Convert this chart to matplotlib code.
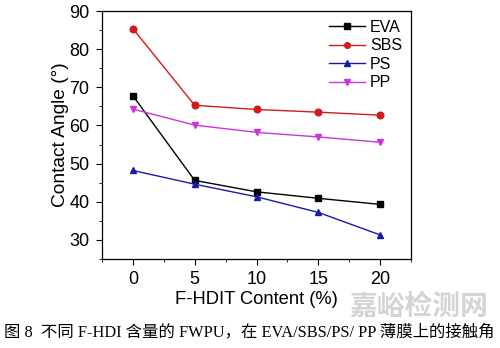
import matplotlib
matplotlib.use("Agg")
import matplotlib.pyplot as plt
from matplotlib.ticker import MultipleLocator

content = [0, 5, 10, 15, 20]
eva = [67.8, 45.6, 42.6, 40.9, 39.3]
sbs = [85.4, 65.3, 64.2, 63.5, 62.7]
ps = [48.2, 44.6, 41.3, 37.2, 31.3]
pp = [64.3, 60.1, 58.2, 57.0, 55.6]
series_names = ["EVA", "SBS", "PS", "PP"]
caption = "图 8  不同 F-HDI 含量的 FWPU，在 EVA/SBS/PS/ PP 薄膜上的接触角"
watermark = "嘉峪检测网"

plt.rcParams['font.family'] = ['Liberation Sans', 'DejaVu Sans']

fig = plt.figure(figsize=(5, 3.48), dpi=100)
ax = fig.add_axes([0.204, 0.256, 0.618, 0.712])

styles = [("s", "#000000"), ("o", "#d01c1c"), ("^", "#1a1aaa"), ("v", "#cc33dd")]
for vals, name, (m, c) in zip([eva, sbs, ps, pp], series_names, styles):
    ax.plot(content, vals, marker=m, color=c, lw=1.0, ms=4.8, label=name)

ax.set_xlim(-2.5, 22.5)
ax.set_ylim(25, 90)
ax.xaxis.set_major_locator(MultipleLocator(5))
ax.xaxis.set_minor_locator(MultipleLocator(2.5))
ax.yaxis.set_major_locator(MultipleLocator(10))
ax.yaxis.set_minor_locator(MultipleLocator(5))
ax.tick_params(which='both', direction='out', top=False, right=False)
ax.tick_params(which='major', length=4, labelsize=13, pad=5)
ax.tick_params(which='minor', length=2.5)
for s in ax.spines.values():
    s.set_linewidth(0.9)

ax.set_xlabel("F-HDIT Content (%)", fontsize=13.2, labelpad=2)
ax.set_ylabel("Contact Angle (°)", fontsize=13.8, labelpad=0)

leg = ax.legend(loc='upper right', frameon=False, fontsize=11.5, handlelength=2.2,
                handletextpad=0.35, labelspacing=0.22, borderaxespad=0.15, markerscale=0.85)

fig.text(0.008, 0.046, caption, fontsize=11.8, family=['Liberation Serif', 'Noto Sans CJK SC'],
         va='center', ha='left')
fig.text(0.838, 0.118, watermark, fontsize=20, color='#d4d4d4', fontweight='bold',
         family=['Noto Sans CJK SC'], va='center', ha='center', zorder=-1)

fig.savefig("out.png", dpi=100)
